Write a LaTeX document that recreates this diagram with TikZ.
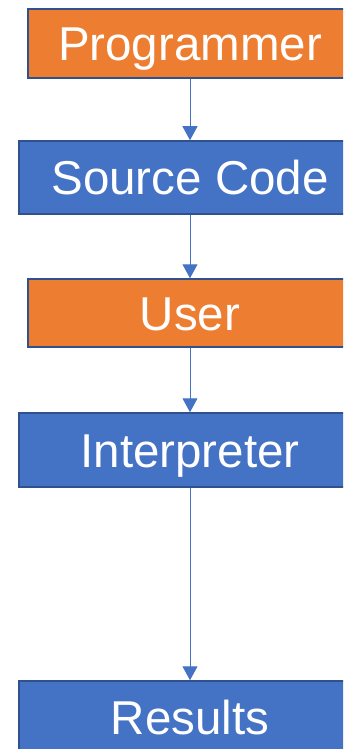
\documentclass[tikz,border=0pt]{standalone}
\usepackage{fontspec}
\setmainfont{Liberation Sans}
\usetikzlibrary{arrows.meta}
\definecolor{boxorange}{HTML}{ED7D31}
\definecolor{boxblue}{HTML}{4472C4}
\definecolor{boxline}{HTML}{2F528F}
\tikzset{
  basebox/.style={draw=boxline, line width=1.5pt, rectangle, inner sep=0pt,
    text=white, font=\fontsize{47.5}{50}\selectfont, text height=34pt, text depth=0pt},
  orangebox/.style={basebox, fill=boxorange, minimum width=324pt},
  bluebox/.style={basebox, fill=boxblue, minimum width=342pt},
  link/.style={draw=boxblue, line width=1pt, -{Triangle[width=15pt,length=14pt]}}
}
\begin{document}
\begin{tikzpicture}[x=1pt,y=1pt]
\useasboundingbox (0,0) rectangle (343,-749);
\clip (0,0) rectangle (343,-749);
\node[orangebox, minimum height=69pt] (prog) at (190,-43.5) {Programmer};
\node[bluebox, minimum height=73pt] (src) at (190,-177.5) {Source Code};
\node[orangebox, minimum height=68pt] (user) at (190,-313) {User};
\node[bluebox, minimum height=74pt] (interp) at (190,-450) {Interpreter};
\node[bluebox, minimum height=73pt] (res) at (190,-717.5) {Results};
\draw[link] (prog) -- (src);
\draw[link] (src) -- (user);
\draw[link] (user) -- (interp);
\draw[link] (interp) -- (res);
\end{tikzpicture}
\end{document}
